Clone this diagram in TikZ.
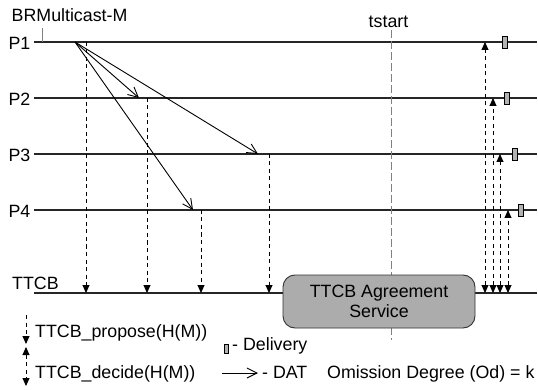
\documentclass[tikz,border=0pt]{standalone}
\usepackage{fontspec}
\setmainfont{Liberation Sans}
\usetikzlibrary{arrows.meta}
\begin{document}
\begin{tikzpicture}[x=1pt,y=-1pt,
  lbl/.style={font=\fontsize{17.8}{20}\selectfont, inner sep=0pt},
  proc/.style={line width=1.7pt, draw=black!85},
  dat/.style={line width=0.9pt, -{Straight Barb[length=10pt,width=10pt,line width=0.9pt]}},
  prop/.style={line width=0.9pt, dash pattern=on 4pt off 3.5pt, -{Triangle[length=8pt,width=7pt]}},
  dec/.style={line width=0.9pt, dash pattern=on 4pt off 3.5pt, {Triangle[length=8pt,width=7pt]}-{Triangle[length=8pt,width=7pt]}},
  deliv/.style={draw=black, fill=gray!60, line width=0.7pt, minimum width=5pt, minimum height=12pt, inner sep=0pt},
]
\fill[white] (0,0) rectangle (538,390);
\useasboundingbox (0,0) rectangle (538,390);

% process lines
\foreach \n/\y in {1/42,2/98,3/154,4/210}{
  \coordinate (s\n) at (34,\y);
  \coordinate (e\n) at (537,\y);
  \draw[proc] (s\n) -- (e\n);
  \node[lbl, anchor=base east] (lp\n) at (30.5,\y+7.5) {P\n};
}
\coordinate (sT) at (34,293);
\coordinate (eT) at (537,293);
\draw[proc] (sT) -- (eT);
\node[lbl, anchor=base west] (lT) at (12,289) {TTCB};

% header labels
\node[lbl, anchor=base west] (br) at (11.5,22) {BRMulticast-M};
\coordinate (tk1) at (42,28);
\coordinate (tk2) at (42,42);
\draw[gray, line width=0.9pt] (tk1) -- (tk2);
\node[lbl, anchor=base] (ts) at (388.5,28) {tstart};

% tstart line
\coordinate (tsa) at (391,30);
\coordinate (tsb) at (391,340);
\draw[gray, line width=1pt, dash pattern=on 8pt off 3pt] (tsa) -- (tsb);

% DAT arrows
\coordinate (o) at (75,42);
\coordinate (d2) at (139,98);
\coordinate (d3) at (258,154);
\coordinate (d4) at (193,210);
\draw[dat] (o) -- (d2);
\draw[dat] (o) -- (d3);
\draw[dat] (o) -- (d4);

% propose arrows
\foreach \x/\y/\n in {86/42/a,147/98/b,201/210/c,269/154/d}{
  \coordinate (pt\n) at (\x,\y);
  \coordinate (pb\n) at (\x,293);
  \draw[prop] (pt\n) -- (pb\n);
}

% agreement service
\node[draw=black!80, fill=gray!65, line width=0.9pt, rounded corners=12pt,
      minimum width=192pt, minimum height=53pt, align=center,
      font=\fontsize{17.8}{20.5}\selectfont] (ag) at (379,301.5) {TTCB Agreement\\Service};

% decide arrows
\foreach \x/\y/\n in {485/42/a,493/98/b,500/154/c,508/210/d}{
  \coordinate (dt\n) at (\x,\y);
  \coordinate (db\n) at (\x,293);
  \draw[dec] (db\n) -- (dt\n);
}

% deliveries
\node[deliv] (dl1) at (504.5,42) {};
\node[deliv] (dl2) at (507,98) {};
\node[deliv] (dl3) at (515,154) {};
\node[deliv] (dl4) at (520.5,210) {};

% legend
\coordinate (lpa) at (26,315);
\coordinate (lpb) at (26,344);
\draw[prop] (lpa) -- (lpb);
\node[lbl, anchor=base west] (tprop) at (35,337) {TTCB\_propose(H(M))};
\coordinate (lda) at (26,386);
\coordinate (ldb) at (26,347);
\draw[dec] (ldb) -- (lda);
\node[lbl, anchor=base west] (tdec) at (35,378) {TTCB\_decide(H(M))};
\node[deliv, minimum width=4pt, minimum height=9pt] (ldl) at (226,348.5) {};
\node[lbl, anchor=base west] (tdl) at (232,350) {- Delivery};
\coordinate (lxa) at (222,373);
\coordinate (lxb) at (258,373);
\draw[dat] (lxa) -- (lxb);
\node[lbl, anchor=base west] (tdat) at (262,378) {- DAT};
\node[lbl, anchor=base west] (tom) at (327,378) {Omission Degree (Od) = k};
\end{tikzpicture}
\end{document}
